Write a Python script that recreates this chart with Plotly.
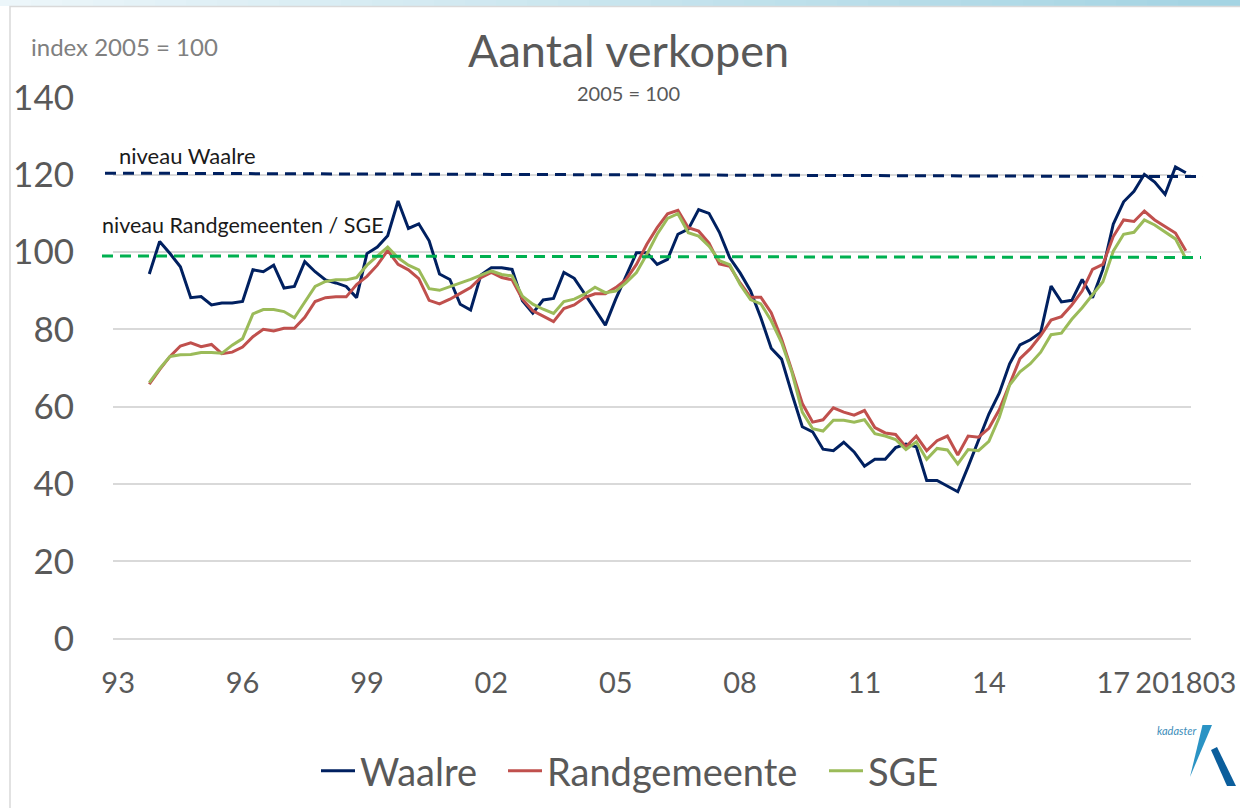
import plotly.graph_objects as go

# kwartalen 1993 t/m 2018, lijnen beginnen pas bij het 4e kwartaal (voortschrijdend jaar)
kwartalen = [f"{j}-K{k}" for j in range(1993, 2019) for k in range(1, 5)]
start = 3

waalre = [94.3, 102.7, 99.6, 96.2, 88.2, 88.5, 86.3, 86.8, 86.8, 87.2,
          95.4, 94.9, 96.6, 90.7, 91.1, 97.5, 94.9, 92.8, 92.0, 91.1,
          88.2, 99.6, 101.3, 104.2, 113.2, 106.1, 107.3, 102.9, 94.3, 92.9,
          86.5, 85.0, 94.1, 95.9, 95.9, 95.5, 87.4, 84.2, 87.6, 88.0,
          94.7, 93.2, 89.2, 85.2, 81.1, 87.8, 93.8, 99.8, 99.8, 96.8,
          98.1, 104.6, 105.9, 111.0, 110.0, 105.1, 98.5, 94.6, 90.0, 83.0,
          75.1, 72.3, 63.3, 54.8, 53.5, 49.0, 48.6, 50.8, 48.3, 44.6,
          46.4, 46.4, 49.4, 50.3, 49.6, 40.9, 40.9, 39.5, 38.0, 44.5,
          51.4, 58.1, 63.5, 71.1, 76.0, 77.3, 79.2, 91.2, 87.1, 87.5,
          92.9, 88.2, 95.5, 107.2, 113.0, 115.7, 120.1, 118.1, 114.9, 122.0,
          120.5]

randgemeente = [65.8, 69.6, 73.0, 75.7, 76.5, 75.5, 76.1, 73.7, 74.1, 75.4,
                78.1, 80.0, 79.6, 80.3, 80.3, 83.1, 87.2, 88.2, 88.4, 88.4,
                91.6, 93.7, 96.6, 100.4, 96.8, 95.4, 93.1, 87.5, 86.6, 87.8,
                89.3, 90.8, 93.4, 94.7, 93.4, 92.8, 87.8, 84.8, 83.4, 82.0,
                85.4, 86.3, 88.2, 89.2, 89.2, 90.8, 92.9, 96.8, 102.0, 106.3,
                109.9, 110.8, 106.3, 105.4, 102.3, 96.9, 96.3, 92.0, 88.3, 88.3,
                84.3, 77.5, 69.3, 60.8, 56.0, 56.6, 59.7, 58.6, 57.8, 59.0,
                54.6, 53.2, 52.8, 49.6, 52.4, 48.6, 51.2, 52.4, 47.5, 52.4,
                52.1, 54.4, 59.2, 66.0, 72.4, 75.0, 78.4, 82.4, 83.3, 86.3,
                89.9, 95.5, 96.8, 104.0, 108.3, 107.9, 110.6, 108.3, 106.6, 104.9,
                100.3]

sge = [66.2, 69.8, 73.0, 73.4, 73.5, 74.0, 74.0, 73.8, 75.9, 77.6,
       84.0, 85.1, 85.1, 84.6, 83.0, 86.9, 91.1, 92.4, 92.8, 92.8,
       93.4, 96.6, 98.9, 101.3, 98.5, 96.6, 95.4, 90.5, 90.1, 91.0,
       92.1, 92.9, 94.0, 95.1, 94.2, 93.8, 88.6, 86.5, 85.2, 84.1,
       87.2, 87.8, 89.1, 90.9, 89.5, 89.9, 92.1, 94.7, 99.4, 104.6,
       108.7, 109.9, 105.0, 104.1, 101.5, 97.8, 96.7, 91.6, 87.7, 86.6,
       82.2, 76.6, 68.9, 58.6, 54.3, 53.7, 56.5, 56.5, 56.0, 56.6,
       53.0, 52.4, 51.5, 48.9, 50.9, 46.4, 49.2, 48.8, 45.2, 48.9,
       48.6, 51.0, 57.2, 65.6, 69.0, 71.1, 74.1, 78.6, 79.0, 82.6,
       85.6, 89.1, 92.3, 100.2, 104.6, 105.1, 108.3, 107.0, 105.3, 103.4,
       98.3]

tick_labels = ["93", "96", "99", "02", "05", "08", "11", "14", "17", "201803"]
tick_pos = kwartalen[0::12] + [kwartalen[-1]]

# niveau-lijnen (begin, eind)
niveau_waalre = [120.4, 119.5]
niveau_rand = [99.0, 98.6]

W, H = 1240, 808
L, R, T, B = 113, 49, 97, 169
FONT = "Lato"
GRIJS = "#595959"


def px(x):
    return (x - L) / (W - L - R)


def py(y):
    return (H - B - y) / (H - T - B)


fig = go.Figure()
x = kwartalen[start:]
fig.add_trace(go.Scatter(x=x, y=waalre, name="Waalre", mode="lines", legendwidth=138,
                         line=dict(color="#002060", width=3)))
fig.add_trace(go.Scatter(x=x, y=randgemeente, name="Randgemeente", mode="lines", legendwidth=272,
                         line=dict(color="#C0504D", width=3)))
fig.add_trace(go.Scatter(x=x, y=sge, name="SGE", mode="lines", legendwidth=70,
                         line=dict(color="#9BBB59", width=3)))

shapes = []
# lichtblauwe balk bovenaan
n = 40
for k in range(n):
    f = k / (n - 1)
    r = int(236 - f * (236 - 164))
    g = int(246 - f * (246 - 212))
    b = int(250 - f * (250 - 227))
    shapes.append(dict(type="rect", xref="paper", yref="paper",
                       x0=px(k * W / n), x1=px((k + 1) * W / n + 1),
                       y0=py(6), y1=py(0), line=dict(width=0),
                       fillcolor=f"rgb({r},{g},{b})", layer="below"))
# kader
shapes.append(dict(type="path", xref="paper", yref="paper",
                   path=f"M {px(10)} {py(H + 5)} L {px(10)} {py(6.5)} L {px(W + 5)} {py(6.5)}",
                   line=dict(color="#D9D9D9", width=1.5), layer="below"))
# niveau-lijnen
shapes.append(dict(type="line", xref="paper", yref="y", x0=px(105), x1=px(1203),
                   y0=niveau_waalre[0], y1=niveau_waalre[1],
                   line=dict(color="#002060", width=3, dash="11px,7px")))
shapes.append(dict(type="line", xref="paper", yref="y", x0=px(102), x1=px(1201),
                   y0=niveau_rand[0], y1=niveau_rand[1],
                   line=dict(color="#00B050", width=3, dash="11px,7px")))
# kadaster logo
shapes.append(dict(type="path", xref="paper", yref="paper",
                   path=f"M {px(1202.5)} {py(725)} L {px(1212)} {py(725)} L {px(1190)} {py(777)} Z",
                   fillcolor="#2A93C4", line=dict(width=0)))
shapes.append(dict(type="path", xref="paper", yref="paper",
                   path=f"M {px(1211)} {py(750)} L {px(1217)} {py(747)} L {px(1236)} {py(786)} L {px(1227)} {py(786)} Z",
                   fillcolor="#0B5E9C", line=dict(width=0)))

annotations = [
    dict(text="index 2005 = 100", x=px(29), y=py(47), xanchor="left", yanchor="middle",
         font=dict(size=24, color="#808080", family=FONT)),
    dict(text="Aantal verkopen", x=px(628), y=py(50), xanchor="center", yanchor="middle",
         font=dict(size=45, color=GRIJS, family=FONT)),
    dict(text="2005 = 100", x=px(628), y=py(93), xanchor="center", yanchor="middle",
         font=dict(size=20, color=GRIJS, family=FONT)),
    dict(text="niveau Waalre", x=px(117), y=py(155), xanchor="left", yanchor="middle",
         font=dict(size=22, color="#1A1A1A", family=FONT)),
    dict(text="niveau Randgemeenten / SGE", x=px(100), y=py(225), xanchor="left", yanchor="middle",
         font=dict(size=21.5, color="#1A1A1A", family=FONT)),
    dict(text="kadaster", x=px(1176), y=py(730), xanchor="center", yanchor="middle",
         font=dict(size=11, color="#3C8DBA", family=FONT, style="italic")),
]
for a in annotations:
    a.update(xref="paper", yref="paper", showarrow=False)

fig.update_layout(
    width=W, height=H, autosize=False,
    margin=dict(l=L, r=R, t=T, b=B, autoexpand=False),
    paper_bgcolor="white", plot_bgcolor="white",
    font=dict(family=FONT, color=GRIJS),
    showlegend=True,
    legend=dict(orientation="h", xref="container", yref="container",
                x=316 / W, y=1 - 771 / H, xanchor="left", yanchor="middle",
                font=dict(size=38, color=GRIJS, family=FONT), itemwidth=34,
                bgcolor="rgba(0,0,0,0)"),
    shapes=shapes,
    annotations=annotations,
)
fig.update_xaxes(type="category", categoryorder="array", categoryarray=kwartalen,
                 range=[-0.5, len(kwartalen) - 0.5], automargin=False,
                 tickmode="array", tickvals=tick_pos, ticktext=tick_labels,
                 tickangle=0, showgrid=False, showline=False, zeroline=False,
                 ticks="", ticklabelstandoff=24,
                 tickfont=dict(size=29, color=GRIJS, family=FONT))
fig.update_yaxes(range=[-0.1, 140.1], tickvals=[0, 20, 40, 60, 80, 100, 120, 140],
                 showgrid=True, gridcolor="#D9D9D9", gridwidth=1.5, automargin=False,
                 zeroline=True, zerolinecolor="#D9D9D9", zerolinewidth=1.5,
                 showline=False, ticks="", ticklabelstandoff=38,
                 tickfont=dict(size=35, color=GRIJS, family=FONT))

fig.write_html("out.html", config={"displayModeBar": False},
               post_script="document.body.style.margin='0';")
